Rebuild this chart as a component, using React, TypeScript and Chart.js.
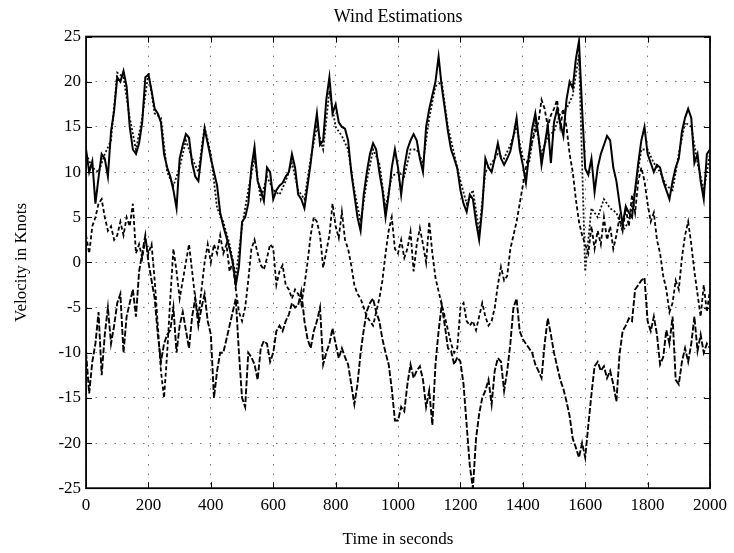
import { useEffect, useRef } from 'react';
import { Chart, registerables } from 'chart.js';

Chart.register(...registerables);

const TITLE = 'Wind Estimations';
const X_LABEL = 'Time in seconds';
const Y_LABEL = 'Velocity in Knots';
const X_TICKS = [0, 200, 400, 600, 800, 1000, 1200, 1400, 1600, 1800, 2000];
const Y_TICKS = [-25, -20, -15, -10, -5, 0, 5, 10, 15, 20, 25];

// seconds between samples
const STEP = 10;
const EST_STEP = 20;

// upper solid trace (t = 0..2000, every 10 s)
const upperTrue = [
  12.5, 10, 11.2, 6.5, 9.4, 12, 11.5, 9.5, 14.5, 16.8,
  20.5, 20, 21.2, 19.5, 15, 12.5, 12, 13.2, 15.5, 20.5,
  20.8, 19, 17, 16.5, 15.5, 12, 10.5, 9.5, 8, 6,
  11.5, 13, 14.2, 13.8, 11, 9.5, 9, 12, 14.8, 13.2,
  11.5, 10, 8.5, 5.5, 4, 2.8, 1.5, 0, -2.5, -0.5,
  4.5, 5, 6.5, 10.5, 12.8, 9, 8, 6.8, 10.5, 10,
  7, 8, 8.5, 8.8, 9.5, 10, 12, 10.5, 7.5, 7,
  6, 8.5, 11, 14, 16.5, 13, 13.5, 18, 20.5, 16.5,
  17.5, 15.5, 15, 14.8, 13.5, 10, 7.5, 5, 3.5, 7.5,
  10, 12, 13.2, 12.5, 10, 8, 5, 7.5, 10.5, 12.5,
  10.5, 7.5, 10.5, 12.5, 13.5, 14.2, 13.5, 11.5, 10, 15,
  17, 18.5, 20, 22.8, 19.5, 17, 14.5, 12.5, 11.5, 10.4,
  8, 6.5, 5.6, 7.5, 7, 4.5, 2.5, 6, 11.5, 10.5,
  10, 11.5, 13.2, 11.5, 10.8, 11.5, 12.3, 14, 16, 12.5,
  10.8, 8.8, 12, 14.8, 16.5, 14, 10.8, 13, 15.2, 11,
  15.5, 17, 15.5, 14, 18, 20, 19.3, 22.5, 24.5, 17,
  10.4, 9.7, 11.5, 7.8, 10.5, 12, 13, 14, 13.5, 10.5,
  9, 6.5, 4.2, 6.2, 5.5, 5, 8, 11, 13.5, 15,
  12, 11, 10, 10.8, 10.5, 9, 8, 7, 9, 10.5,
  11.5, 14.5, 16, 17, 16, 11, 12, 9, 7, 12,
  12.5,
];

// upper dotted estimate (t = 0..2000, every 20 s)
const upperEst = [
  12, 10.5, 10, 12, 13.5, 21, 20.5, 16, 12.5, 16,
  21, 16.5, 16, 10, 8.5, 10.5, 13.5, 11.5, 10, 15,
  12, 6, 4.5, 2, -1.5, 4, 8, 11.5, 7, 9.5,
  8, 7.5, 9, 11, 8, 7, 11.5, 15, 12.5, 19,
  15, 14, 12.5, 8, 4.5, 9, 12.5, 11, 6, 9.5,
  10, 9.5, 12.5, 12.5, 11, 16, 19.5, 20, 15, 12,
  9, 6.5, 8, 3.5, 10, 11, 12, 11.5, 13, 15,
  11.5, 11, 15.5, 12, 14, 14.5, 16.5, 17, 18.5, 23,
  -1, 6, 5, 7, 6, 5.5, 3.5, 4.5, 8, 12.5,
  12.5, 11, 10, 8.5, 8, 12, 15.5, 15, 11, 8,
  12,
];

// middle dashed trace (t = 0..2000, every 10 s)
const middleEst = [
  3, 1, 4, 5, 6.5, 7, 5, 3.5, 4, 2.5,
  3, 4.5, 3, 5, 4, 6.5, 1, 2, 0.5, 2.5,
  1, 2, -2, -7, -12, -15, -10, -4, 1.5, -1,
  -4, -2, 0, 2, -1, -4, -6, -3, 0, 2,
  0, 2, 1, 3, 1, 2, -1, 0, -3, -5.5,
  -6.5, -5, -2, 1.5, 2.5, 1, -0.3, -0.8, 0.5, 2,
  1.6, -2.5, -1, -0.3, -2.5, -3, -4, -3, -3.5, -4.7,
  -2.5, 0, 3, 5, 4.5, 3, -0.6, 1.2, 3, 6.5,
  4, 2.7, 5.6, 2.5, 1.5, -0.3, -2.5, -3.5, -4, -5,
  -6, -6.5, -7, -5.5, -4, -2, 1, 3.5, 5, 1.5,
  1, 2.5, 0.5, 1.5, 3.4, -1, 2, 3.8, 2, 0,
  4.5, 1, -1.7, -3.2, -4.7, -6, -7.5, -9, -10, -9.5,
  -5, -4.5, -6.5, -7, -6.5, -7.5, -6, -4.5, -6, -7,
  -6.5, -5, -2.5, -0.5, -2, -1.5, 1.5, 3, 4.5, 6.5,
  8.5, 10.5, 12, 13.4, 14.5, 15.5, 18, 17, 15, 16.3,
  17, 18, 15, 17, 15, 12, 10, 7, 4.5, 3,
  2, 1, 4, 1.5, 3.5, 2, 5, 2.5, 4, 1.5,
  3, 5, 3.5, 6, 4, 7.5, 5.5, 9, 10.5, 9,
  6.5, 4.5, 5.5, 2.5, 1, -1.5, -3, -5.5, -4.5, -2,
  -3, 0.5, 3, 4.5, 2, -1, -3.5, -6, -2.5, -5.5,
  -3,
];

// lower dashed trace (t = 0..2000, every 10 s)
const lowerEst = [
  -10, -14.5, -11, -9, -5.5, -12.5, -8, -5, -9, -7,
  -4.5, -3.5, -10, -6, -4.5, -3, -6, -1, 1, 3,
  0, -2, -4, -8, -11, -9, -8, -7.5, -5, -10,
  -7, -5.5, -7.5, -9.5, -6, -4, -7, -5, -3.5, -6.5,
  -8, -15, -12, -10, -10, -8.5, -7, -5.5, -4, -10,
  -15, -16, -10, -10.5, -11.3, -13, -9.5, -8.7, -9, -11,
  -10, -7.6, -7, -7.6, -6.5, -5.8, -4.5, -5, -4.7, -3.2,
  -6.5, -8.5, -9.5, -7.6, -6.5, -5, -11.3, -10, -9, -7.3,
  -9, -10.6, -9.5, -10.5, -11.3, -13.5, -15.7, -13.5, -10, -7.5,
  -5.4, -4.5, -4, -5.5, -6.5, -8.5, -10, -11.3, -14, -17.5,
  -17.5, -16, -16.5, -13.5, -11.3, -12.8, -12, -11.5, -13, -16,
  -14.2, -18, -11.3, -7.6, -4.7, -7, -9.5, -9.8, -11.3, -10.5,
  -11, -13.5, -18, -22.5, -25, -19.5, -16.8, -15, -14.2, -13,
  -15.7, -12, -10.6, -11, -14.2, -12, -9, -5, -4, -7.6,
  -8.5, -9, -9.5, -10, -11.3, -12, -12.8, -9, -6.2, -8,
  -10, -11.5, -13, -14, -15.4, -17, -19.5, -20.5, -21.6, -20,
  -21.6, -18, -14.6, -11.5, -11, -12, -11.5, -12.8, -12, -13.5,
  -15.4, -10.2, -7.6, -7, -6.2, -6.5, -3, -2.5, -2, -1.7,
  -6.5, -7.6, -6, -8, -11.3, -10.5, -7.5, -9, -6, -13,
  -13.5, -11, -9.5, -11, -9, -6, -9.8, -8, -10, -9,
  -9.5,
];

const FONT = "'Liberation Serif', 'Times New Roman', serif";

const toPoints = (vals: number[], step: number) =>
  vals.map((v, i) => ({ x: i * step, y: v }));

const framePlugin = {
  id: 'matlabFrame',
  afterDatasetsDraw(chart: any) {
    const { ctx, chartArea, scales } = chart;
    const { left, right, top, bottom } = chartArea;
    const xs = scales.x;
    const ys = scales.y;
    ctx.save();
    ctx.strokeStyle = '#000';
    ctx.lineWidth = 1;
    ctx.setLineDash([]);
    ctx.beginPath();
    const len = 6;
    xs.ticks.forEach((t: any) => {
      const px = Math.round(xs.getPixelForValue(t.value)) + 0.5;
      ctx.moveTo(px, bottom);
      ctx.lineTo(px, bottom - len);
      ctx.moveTo(px, top);
      ctx.lineTo(px, top + len);
    });
    ys.ticks.forEach((t: any) => {
      const py = Math.round(ys.getPixelForValue(t.value)) + 0.5;
      ctx.moveTo(left, py);
      ctx.lineTo(left + len, py);
      ctx.moveTo(right, py);
      ctx.lineTo(right - len, py);
    });
    ctx.stroke();
    ctx.lineWidth = 1.8;
    ctx.strokeRect(left, top, right - left, bottom - top);
    ctx.restore();
  },
};

export default function App() {
  const canvasRef = useRef<HTMLCanvasElement | null>(null);

  useEffect(() => {
    const canvas = canvasRef.current;
    if (!canvas) return;
    const tickFont = { family: FONT, size: 17, weight: 'normal' as const };
    const gridOpts = { color: '#777', lineWidth: 1, drawTicks: false };
    const borderOpts = { display: false, dash: [1.5, 8] };
    const chart = new Chart(canvas, {
      type: 'line',
      data: {
        datasets: [
          {
            label: 'upper',
            data: toPoints(upperTrue, STEP),
            borderColor: '#000',
            borderWidth: 2,
            pointRadius: 0,
            tension: 0,
          },
          {
            label: 'upper estimate',
            data: toPoints(upperEst, EST_STEP),
            borderColor: '#111',
            borderWidth: 1.8,
            borderDash: [2, 2],
            pointRadius: 0,
            tension: 0,
          },
          {
            label: 'middle',
            data: toPoints(middleEst, STEP),
            borderColor: '#000',
            borderWidth: 1.8,
            borderDash: [4, 2.5],
            pointRadius: 0,
            tension: 0,
          },
          {
            label: 'lower',
            data: toPoints(lowerEst, STEP),
            borderColor: '#000',
            borderWidth: 1.9,
            borderDash: [6, 2],
            pointRadius: 0,
            tension: 0,
          },
        ],
      },
      options: {
        animation: false,
        responsive: true,
        maintainAspectRatio: false,
        parsing: true,
        layout: { padding: { left: 0, right: 22, top: 0, bottom: 0 } },
        plugins: {
          legend: { display: false },
          tooltip: { enabled: false },
          title: {
            display: true,
            text: TITLE,
            fullSize: false,
            color: '#000',
            font: { family: FONT, size: 18, weight: 'normal' },
            padding: { top: 6, bottom: 9 },
          },
        },
        scales: {
          x: {
            type: 'linear',
            min: 0,
            max: 2000,
            afterBuildTicks: (scale: any) => {
              scale.ticks = X_TICKS.map((v) => ({ value: v }));
            },
            ticks: {
              color: '#000',
              font: tickFont,
              padding: 7,
              maxRotation: 0,
              autoSkip: false,
              callback: (v: any) => String(v),
            },
            grid: gridOpts,
            border: borderOpts,
            title: {
              display: true,
              text: X_LABEL,
              color: '#000',
              font: tickFont,
              padding: { top: 7, bottom: 3 },
            },
          },
          y: {
            type: 'linear',
            min: -25,
            max: 25,
            afterBuildTicks: (scale: any) => {
              scale.ticks = Y_TICKS.map((v) => ({ value: v }));
            },
            ticks: {
              color: '#000',
              font: tickFont,
              padding: 5,
              autoSkip: false,
              callback: (v: any) => String(v),
            },
            grid: gridOpts,
            border: borderOpts,
            title: {
              display: true,
              text: Y_LABEL,
              color: '#000',
              font: tickFont,
              padding: { top: 11, bottom: 22 },
            },
          },
        },
      },
      plugins: [framePlugin],
    });
    return () => chart.destroy();
  }, []);

  return (
    <div
      style={{
        position: 'fixed',
        left: 0,
        top: 0,
        width: 734,
        height: 553,
        background: '#fff',
      }}
    >
      <canvas ref={canvasRef} />
    </div>
  );
}
